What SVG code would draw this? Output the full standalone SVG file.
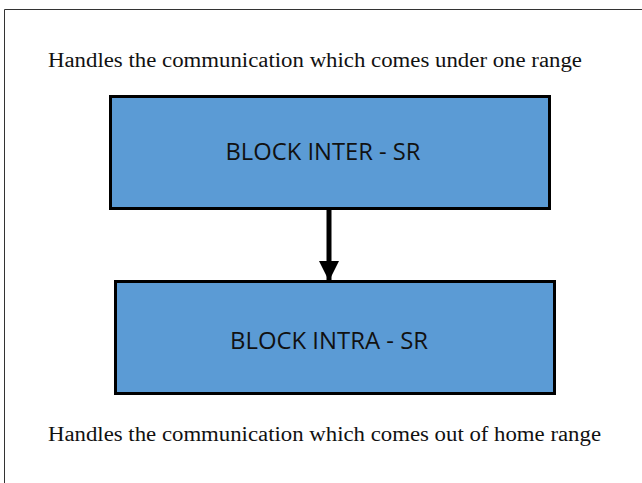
<svg xmlns="http://www.w3.org/2000/svg" width="642" height="483" viewBox="0 0 642 483">
<style>
.cap{font-family:"Liberation Serif","Times New Roman",serif;font-size:20px;fill:#111}
.box{fill:#5B9BD5;stroke:#000;stroke-width:3}
.lbl{font-family:"Open Sans","Noto Sans",sans-serif;font-size:23px;fill:#111;text-anchor:middle}
</style>
<defs>
<marker id="ah" markerWidth="4" markerHeight="4" refX="4" refY="2" orient="auto" markerUnits="strokeWidth">
<path d="M0,0 L4,2 L0,4 Z" fill="#000"/>
</marker>
</defs>
<rect x="0" y="0" width="642" height="483" fill="#fff"/>
<path d="M4.5,483 V9.5 H642" fill="none" stroke="#333" stroke-width="1"/>
<text class="cap" x="48" y="67" textLength="534" lengthAdjust="spacingAndGlyphs">Handles the communication which comes under one range</text>
<g id="inter">
<rect class="box" x="110.5" y="96.5" width="439" height="112"/>
<text class="lbl" x="323" y="160" textLength="195" lengthAdjust="spacingAndGlyphs">BLOCK INTER - SR</text>
</g>
<g id="intra">
<rect class="box" x="115.5" y="281.5" width="439" height="112"/>
<text class="lbl" x="329" y="349" textLength="198" lengthAdjust="spacingAndGlyphs">BLOCK INTRA - SR</text>
</g>
<g id="connectors">
<line x1="329" y1="210" x2="329" y2="281" stroke="#000" stroke-width="5" marker-end="url(#ah)"/>
</g>
<text class="cap" x="48" y="441" textLength="553" lengthAdjust="spacingAndGlyphs">Handles the communication which comes out of home range</text>
</svg>
